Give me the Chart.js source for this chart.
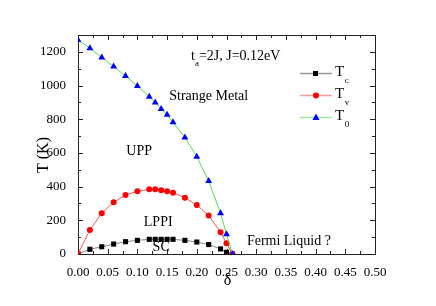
<!DOCTYPE html>
<html lang="en">
<head>
    <meta charset="UTF-8">
    <title>Phase diagram</title>
    <style>
        body {
            margin: 0;
            background: #fff;
        }
        #wrap {
            width: 436px;
            height: 306px;
            position: relative;
        }
    </style>
</head>
<body>
    <div id="wrap">
        <canvas id="myChart"></canvas>
    </div>
    <script src="https://cdn.jsdelivr.net/npm/chart.js"></script>
    <script>
        // doping values and the three temperature curves (K)
        var delta = [0, 0.02, 0.04, 0.06, 0.08, 0.10, 0.12, 0.13, 0.14, 0.15, 0.16, 0.18, 0.20, 0.22, 0.24, 0.25, 0.26];
        var Tc = [0, 28, 43, 59, 73, 81, 87, 87, 87, 87, 87, 81, 71, 56, 30, 10, 0];
        var Tv = [0, 143, 242, 307, 350, 372, 384, 384, 378, 372, 364, 334, 291, 228, 129, 64, 0];
        var T0 = [1270, 1222, 1166, 1113, 1057, 998, 934, 899, 861, 827, 782, 691, 578, 434, 242, 117, 0];

        var xTicks = [0, 0.05, 0.10, 0.15, 0.20, 0.25, 0.30, 0.35, 0.40, 0.45, 0.50];
        var yTicks = [0, 200, 400, 600, 800, 1000, 1200];

        var font = "'Liberation Serif', 'Times New Roman', serif";

        function pts(ys) {
            return delta.map(function(d, i) { return { x: d, y: ys[i] }; });
        }

        // region labels, placed in data units
        var notes = [
            { text: 'Strange Metal', x: 0.22, y: 938 },
            { text: 'UPP', x: 0.103, y: 608 },
            { text: 'LPPI', x: 0.135, y: 190 },
            { text: 'SC', x: 0.14, y: 40 },
            { text: 'Fermi Liquid ?', x: 0.355, y: 77 }
        ];

        var legendItems = [
            { name: 'T', sub: 'c', color: '#000', line: '#999', shape: 'rect' },
            { name: 'T', sub: 'v', color: '#f00', line: '#ff9a9a', shape: 'circle' },
            { name: 'T', sub: '0', color: '#00f', line: '#99ee99', shape: 'triangle' }
        ];

        var decor = {
            id: 'decor',
            beforeDatasetsDraw: function(chart) {
                var ctx = chart.ctx, a = chart.chartArea;
                var xs = chart.scales.x, ys = chart.scales.y;
                ctx.save();
                ctx.strokeStyle = '#222';
                ctx.lineWidth = 1;
                ctx.strokeRect(Math.round(a.left) + 0.5, Math.round(a.top) + 0.5,
                    Math.round(a.right - a.left), Math.round(a.bottom - a.top));
                ctx.beginPath();
                // x ticks (major 0.05, minor 0.025) on bottom and top
                for (var i = 0; i <= 20; i++) {
                    var px = Math.round(xs.getPixelForValue(i * 0.025)) + 0.5;
                    var len = i % 2 === 0 ? 5 : 3;
                    ctx.moveTo(px, a.bottom); ctx.lineTo(px, a.bottom - len);
                    ctx.moveTo(px, a.top); ctx.lineTo(px, a.top + len);
                }
                // y ticks (major 200, minor 100) on left and right
                for (var j = 0; j <= 13; j++) {
                    var py = Math.round(ys.getPixelForValue(j * 100)) + 0.5;
                    var l2 = j % 2 === 0 ? 5 : 3;
                    ctx.moveTo(a.left, py); ctx.lineTo(a.left + l2, py);
                    ctx.moveTo(a.right, py); ctx.lineTo(a.right - l2, py);
                }
                ctx.stroke();
                ctx.restore();
            },
            afterDraw: function(chart) {
                var ctx = chart.ctx, a = chart.chartArea;
                var xs = chart.scales.x, ys = chart.scales.y;
                ctx.save();
                ctx.fillStyle = '#000';
                ctx.textBaseline = 'middle';

                ctx.font = '14px ' + font;
                ctx.textAlign = 'center';
                notes.forEach(function(n) {
                    ctx.fillText(n.text, xs.getPixelForValue(n.x), ys.getPixelForValue(n.y));
                });

                // t_a=2J, J=0.12eV
                ctx.textAlign = 'left';
                var tx = 191, ty = 56;
                ctx.fillText('t', tx, ty);
                var tw = ctx.measureText('t').width;
                ctx.font = '9px ' + font;
                ctx.fillText('a', tx + tw, ty + 8);
                var aw = ctx.measureText('a').width;
                ctx.font = '14px ' + font;
                ctx.fillText('=2J, J=0.12eV', tx + tw + aw, ty);

                // legend
                legendItems.forEach(function(it, k) {
                    var y = 73.5 + k * 22;
                    ctx.strokeStyle = it.line;
                    ctx.lineWidth = 1.5;
                    ctx.beginPath();
                    ctx.moveTo(300, y); ctx.lineTo(332, y);
                    ctx.stroke();
                    ctx.fillStyle = it.color;
                    ctx.beginPath();
                    if (it.shape === 'rect') {
                        ctx.rect(313, y - 2.5, 5, 5);
                    } else if (it.shape === 'circle') {
                        ctx.arc(316, y, 3, 0, Math.PI * 2);
                    } else {
                        ctx.moveTo(316, y - 4); ctx.lineTo(319.5, y + 2.5); ctx.lineTo(312.5, y + 2.5);
                        ctx.closePath();
                    }
                    ctx.fill();
                    ctx.fillStyle = '#000';
                    ctx.font = '15px ' + font;
                    ctx.fillText(it.name, 335, y - 1);
                    var w = ctx.measureText(it.name).width;
                    ctx.font = '9px ' + font;
                    ctx.fillText(it.sub, 335 + w + 0.5, y + 7);
                });

                // axis titles
                ctx.font = '16px ' + font;
                ctx.textAlign = 'center';
                ctx.fillText('\u03b4', (a.left + a.right) / 2 + 1, 281);
                ctx.save();
                ctx.translate(44, 155);
                ctx.rotate(-Math.PI / 2);
                ctx.fillText('T (K)', 0, 0);
                ctx.restore();
                ctx.restore();
            }
        };

        var ctx = document.getElementById('myChart').getContext('2d');
        window.myChart = new Chart(ctx, {
            type: 'line',
            data: {
                datasets: [{
                    label: 'Tc',
                    data: pts(Tc),
                    borderColor: '#888',
                    backgroundColor: '#000',
                    borderWidth: 1,
                    pointStyle: 'rect',
                    pointRadius: 3.6,
                    pointBorderWidth: 0,
                    order: 2
                }, {
                    label: 'Tv',
                    data: pts(Tv),
                    borderColor: '#ff5555',
                    backgroundColor: '#f00',
                    borderWidth: 1,
                    pointStyle: 'circle',
                    pointRadius: 3,
                    pointBorderWidth: 0,
                    order: 1
                }, {
                    label: 'T0',
                    data: pts(T0),
                    borderColor: '#55dd55',
                    backgroundColor: '#00f',
                    borderWidth: 1,
                    pointStyle: 'triangle',
                    pointRadius: 4,
                    pointBorderWidth: 0,
                    order: 0
                }]
            },
            options: {
                responsive: true,
                maintainAspectRatio: false,
                animation: false,
                layout: { padding: { left: 0, right: 61, top: 35, bottom: 0 } },
                plugins: {
                    legend: { display: false },
                    tooltip: { enabled: false }
                },
                scales: {
                    x: {
                        type: 'linear',
                        min: 0,
                        max: 0.5,
                        grid: { display: false },
                        border: { display: false },
                        afterFit: function(s) { s.height = 52; },
                        afterBuildTicks: function(s) {
                            s.ticks = xTicks.map(function(v) { return { value: v }; });
                        },
                        ticks: {
                            padding: 3,
                            color: '#000',
                            maxRotation: 0,
                            font: { family: font, size: 13 },
                            callback: function(v) { return v.toFixed(2); }
                        }
                    },
                    y: {
                        min: 0,
                        max: 1300,
                        grid: { display: false },
                        border: { display: false },
                        afterFit: function(s) { s.width = 78; },
                        afterBuildTicks: function(s) {
                            s.ticks = yTicks.map(function(v) { return { value: v }; });
                        },
                        ticks: {
                            padding: 4,
                            color: '#000',
                            font: { family: font, size: 13 },
                            callback: function(v) { return String(v); }
                        }
                    }
                }
            },
            plugins: [decor]
        });
    </script>
</body>
</html>
